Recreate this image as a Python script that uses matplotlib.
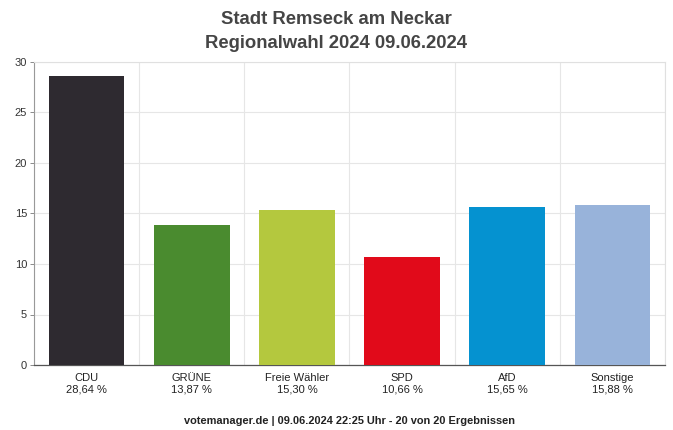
import matplotlib
matplotlib.use("Agg")
import matplotlib.pyplot as plt
from matplotlib import font_manager

names = {f.name for f in font_manager.fontManager.ttflist}
fam = ['Liberation Sans Narrow', 'Liberation Sans', 'DejaVu Sans'] if 'Liberation Sans Narrow' in names else ['Liberation Sans', 'DejaVu Sans']
plt.rcParams['font.family'] = fam

parties = ["CDU", "GRÜNE", "Freie Wähler", "SPD", "AfD", "Sonstige"]
values = [28.64, 13.87, 15.30, 10.66, 15.65, 15.88]
value_labels = ["28,64 %", "13,87 %", "15,30 %", "10,66 %", "15,65 %", "15,88 %"]
colors = ["#2e2a30", "#4a8b2f", "#b4c83e", "#e10a1a", "#0592d0", "#98b3da"]
yticks = [0, 5, 10, 15, 20, 25, 30]

fig = plt.figure(figsize=(6.73, 4.30), dpi=100)
ax = fig.add_axes([34/673, 65/430, (665-34)/673, (365-62)/430])

x = list(range(len(parties)))
ax.bar(x, values, width=0.72, color=colors, zorder=3)
ax.set_xlim(-0.5, len(parties) - 0.5)
ax.set_ylim(0, 30)
ax.set_yticks(yticks)
ax.set_yticklabels([str(t) for t in yticks], fontsize=8, color="#333333")
ax.tick_params(axis='y', length=3, width=0.6, color="#777777", pad=2)

# vertical grid lines at category boundaries
ax.set_xticks([i - 0.5 for i in range(len(parties) + 1)], minor=True)
ax.set_xticks(x)
ax.set_xticklabels([f"{p}\n{v}" for p, v in zip(parties, value_labels)], fontsize=8, color="#222222", linespacing=1.15)
ax.tick_params(axis='x', which='major', length=0, pad=6)
ax.tick_params(axis='x', which='minor', length=0)
ax.grid(axis='x', which='minor', color="#e6e6e6", linewidth=0.8, zorder=0)
ax.grid(axis='y', which='major', color="#e6e6e6", linewidth=0.8, zorder=0)

for side in ['top', 'right']:
    ax.spines[side].set_color("#e0e0e0")
    ax.spines[side].set_linewidth(0.8)
ax.spines['left'].set_color("#999999")
ax.spines['left'].set_linewidth(0.8)
ax.spines['bottom'].set_color("#555555")
ax.spines['bottom'].set_linewidth(0.9)

fig.text(336/673, 1 - 19/430, "Stadt Remseck am Neckar", ha='center', va='center',
         fontsize=13.3, fontweight='bold', color="#454545")
fig.text(336/673, 1 - 43/430, "Regionalwahl 2024 09.06.2024", ha='center', va='center',
         fontsize=13.3, fontweight='bold', color="#454545")
fig.text(349/673, 1 - 421/430, "votemanager.de | 09.06.2024 22:25 Uhr - 20 von 20 Ergebnissen",
         ha='center', va='center', fontsize=7.9, fontweight='bold', color="#222222")

fig.savefig("out.png", dpi=100, facecolor="white")
